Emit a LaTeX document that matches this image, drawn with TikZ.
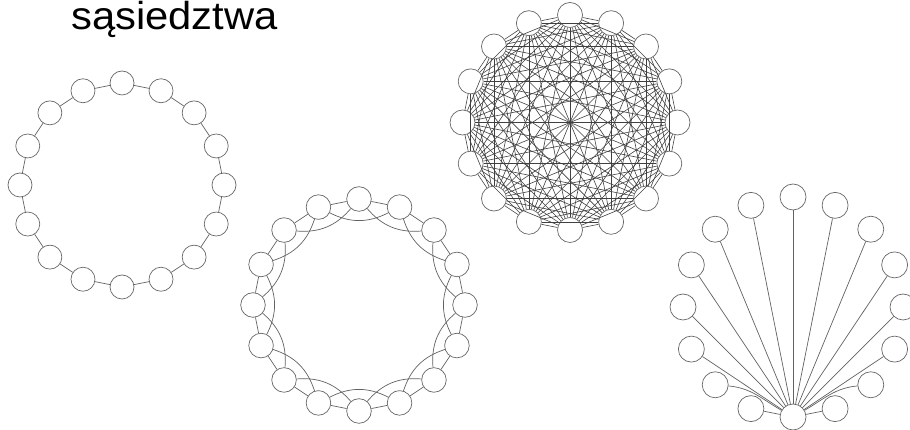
\documentclass[tikz,border=0pt]{standalone}
\usepackage{fontspec}
\setmainfont{Liberation Sans}
\usetikzlibrary{calc}
\begin{document}
\begin{tikzpicture}[x=1pt,y=1pt,
  vert/.style={circle,draw=black!60,fill=white,line width=0.7pt,inner sep=0pt},
  edge/.style={draw=black!62,line width=0.7pt},
  kedge/.style={draw=black!75,line width=0.6pt}]
\useasboundingbox (0,0) rectangle (910,430);
% title
\node[anchor=base west,inner sep=0pt,xscale=1.07,transform shape,font=\fontsize{39}{39}\selectfont] (title) at (71,400.8) {sąsiedztwa};
% graph 1: ring
\foreach \i in {0,...,15}
  \node[vert,minimum size=24pt] (a\i) at ($(122,245)+(90+22.5*\i:102)$) {};
\foreach \i in {0,...,15}{
  \pgfmathtruncatemacro\n{mod(\i+1,16)}
  \draw[edge] (a\i) -- (a\n);}
% graph 2: ring with second neighbours
\foreach \i in {0,...,15}
  \node[vert,minimum size=24.6pt] (b\i) at ($(359,125)+(90+22.5*\i:106)$) {};
\foreach \i in {0,...,15}{
  \pgfmathtruncatemacro\n{mod(\i+1,16)}
  \pgfmathtruncatemacro\m{mod(\i+2,16)}
  \draw[edge] (b\i) -- (b\n);
  \draw[edge] (b\i) to[bend left=27] (b\m);}
% graph 3: complete graph
\foreach \i in {0,...,15}
  \node[vert,minimum size=25pt] (c\i) at ($(570,307.5)+(90+22.5*\i:107.5)$) {};
\foreach \i in {0,...,14}{
  \pgfmathtruncatemacro\s{\i+1}
  \foreach \j in {\s,...,15}
    \draw[kedge] (c\i) -- (c\j);}
% graph 4: star
\foreach \i in {0,...,15}
  \node[vert,minimum size=26pt] (d\i) at ($(793,123)+(90+22.5*\i:110)$) {};
\foreach \i in {0,1,2,3,4,5,7,9,11,12,13,14,15}
  \draw[edge] (d\i) -- (d8);
\draw[edge] (d6) to[out=-5,in=150] (d8);
\draw[edge] (d10) to[out=185,in=30] (d8);
\end{tikzpicture}
\end{document}
